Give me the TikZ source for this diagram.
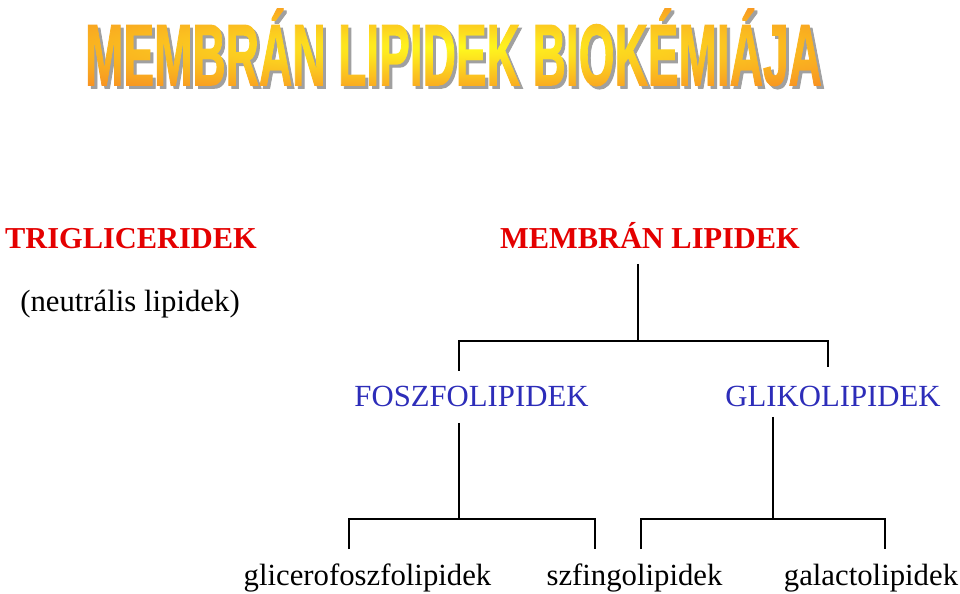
\documentclass[tikz,border=0pt]{standalone}
\usepackage{fontspec}
\setmainfont{Liberation Serif}
\newfontfamily\titlefont[BoldFeatures={FakeBold=1.6}]{Liberation Sans}
\usetikzlibrary{fadings}
\definecolor{headred}{RGB}{228,0,0}
\definecolor{subblue}{RGB}{45,45,185}
\definecolor{titleorange}{RGB}{246,128,34}
\definecolor{titleyellow}{RGB}{255,250,30}
\definecolor{titleshadow}{RGB}{160,160,160}
\newcommand{\titletext}{\resizebox{14.74cm}{1.54cm}{\titlefont\bfseries MEMBRÁN LIPIDEK BIOKÉMIÁJA}}

\begin{tikzfadingfrompicture}[name=titlefade]
  \node[inner sep=0pt, text=transparent!0] {\titletext};
\end{tikzfadingfrompicture}

\begin{document}
\begin{tikzpicture}[x=0.02cm, y=-0.02cm,
    redhead/.style={font=\fontsize{17.3}{20}\selectfont\bfseries, text=headred, inner sep=0pt, anchor=base},
    bluehead/.style={font=\fontsize{17.5}{20}\selectfont, text=subblue, inner sep=0pt, anchor=base},
    leaf/.style={font=\fontsize{17.5}{20}\selectfont, inner sep=0pt, anchor=base},
    branch/.style={line width=1.1pt}]
  % picture origin sits at the title centre
  \useasboundingbox[fill=white] (-453.5,-47) rectangle (506.5,547);
  \begin{scope}[shift={(-453.5,-47)}]
    \node[inner sep=0pt, text=titleshadow] (titleshade) at (456.5,50) {\titletext};
  \end{scope}
  \shade[path fading=titlefade, fit fading=false, inner color=titleyellow, outer color=titleorange]
    (-620,-62) rectangle (620,62);

  \begin{scope}[shift={(-453.5,-47)}]
  \node[redhead] (trig) at (131,249) {TRIGLICERIDEK};
  \node[leaf] (neutral) at (130,312) {(neutrális lipidek)};
  \node[redhead] (membran) at (650,249) {MEMBRÁN LIPIDEK};
  \node[bluehead] (foszfo) at (471.5,406) {FOSZFOLIPIDEK};
  \node[bluehead] (gliko) at (833,406) {GLIKOLIPIDEK};
  \node[leaf] (glicero) at (367.5,585) {glicerofoszfolipidek};
  \node[leaf] (szfingo) at (634.5,585) {szfingolipidek};
  \node[leaf] (galacto) at (871,585) {galactolipidek};

  % tree
  \coordinate (mtop) at (638,264);
  \coordinate (mfork) at (638,341);
  \coordinate (fin) at (459,371);
  \coordinate (gin) at (828,367);
  \coordinate (fout) at (459,423);
  \coordinate (ffork) at (459,519);
  \coordinate (gout) at (773,417);
  \coordinate (gfork) at (773,519);
  \coordinate (glin) at (349,549);
  \coordinate (szlin) at (595,549);
  \coordinate (szrin) at (641,549);
  \coordinate (galin) at (885,549);
  \draw[branch] (mtop) -- (mfork);
  \draw[branch] (fin) |- (mfork) -| (gin);
  \draw[branch] (fout) -- (ffork);
  \draw[branch] (glin) |- (ffork) -| (szlin);
  \draw[branch] (gout) -- (gfork);
  \draw[branch] (szrin) |- (gfork) -| (galin);
  \end{scope}
\end{tikzpicture}
\end{document}
